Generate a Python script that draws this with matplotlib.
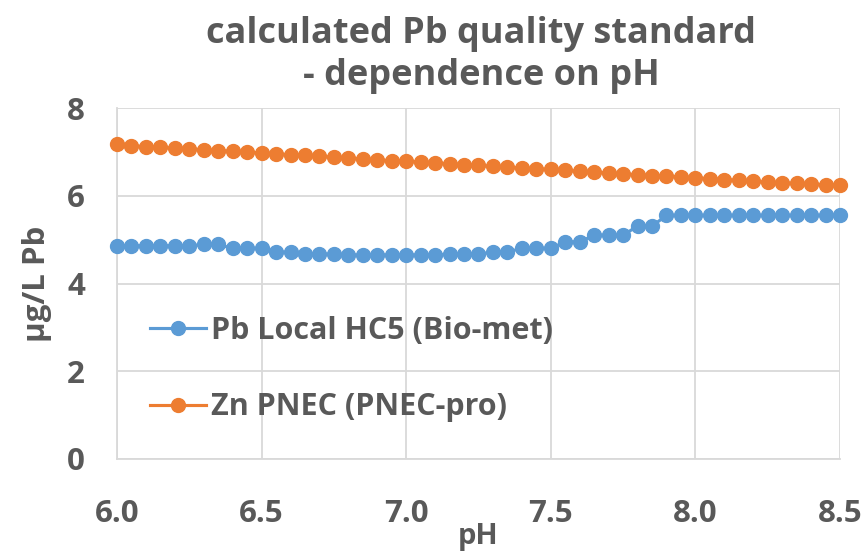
import matplotlib
matplotlib.use("Agg")
import matplotlib.pyplot as plt

ph = [6.0, 6.05, 6.1, 6.15, 6.2, 6.25, 6.3, 6.35, 6.4, 6.45, 6.5, 6.55, 6.6, 6.65, 6.7,
      6.75, 6.8, 6.85, 6.9, 6.95, 7.0, 7.05, 7.1, 7.15, 7.2, 7.25, 7.3, 7.35, 7.4, 7.45,
      7.5, 7.55, 7.6, 7.65, 7.7, 7.75, 7.8, 7.85, 7.9, 7.95, 8.0, 8.05, 8.1, 8.15, 8.2,
      8.25, 8.3, 8.35, 8.4, 8.45, 8.5]

pb_hc5 = [4.86, 4.86, 4.86, 4.86, 4.86, 4.86, 4.89, 4.89, 4.80, 4.80, 4.80, 4.72, 4.71,
          4.67, 4.67, 4.67, 4.65, 4.65, 4.65, 4.65, 4.65, 4.65, 4.65, 4.67, 4.67, 4.67,
          4.72, 4.72, 4.80, 4.80, 4.80, 4.95, 4.95, 5.10, 5.10, 5.10, 5.31, 5.31,
          5.55, 5.55, 5.55, 5.55, 5.55, 5.55, 5.55, 5.55, 5.55, 5.55, 5.55, 5.55, 5.55]

zn_pnec = [7.17, 7.14, 7.12, 7.10, 7.09, 7.07, 7.05, 7.03, 7.01, 6.99, 6.98, 6.95, 6.94,
           6.92, 6.90, 6.88, 6.86, 6.84, 6.82, 6.80, 6.79, 6.77, 6.75, 6.73, 6.71, 6.69,
           6.67, 6.65, 6.63, 6.61, 6.60, 6.58, 6.56, 6.54, 6.52, 6.50, 6.48, 6.46, 6.45,
           6.43, 6.41, 6.39, 6.37, 6.35, 6.33, 6.31, 6.29, 6.28, 6.27, 6.25, 6.24]

labels = ["Pb Local HC5 (Bio-met)", "Zn PNEC (PNEC-pro)"]
title = "calculated Pb quality standard\n- dependence on pH"
xticks = [6.0, 6.5, 7.0, 7.5, 8.0, 8.5]
yticks = [0, 2, 4, 6, 8]

TXT = "#595959"
plt.rcParams['font.family'] = ['Open Sans', 'DejaVu Sans']
plt.rcParams['font.weight'] = 'bold'

fig = plt.figure(figsize=(8.62, 5.57), dpi=100)
ax = fig.add_axes([117/862, 1 - 459/557, (840 - 117)/862, (459 - 108)/557])

ax.plot(ph, pb_hc5, color="#5B9BD5", lw=2.25, marker="o", ms=10, label=labels[0], clip_on=False, zorder=3)
ax.plot(ph, zn_pnec, color="#ED7D31", lw=2.25, marker="o", ms=10, label=labels[1], clip_on=False, zorder=3)

ax.set_xlim(6.0, 8.5)
ax.set_ylim(0, 8)
ax.set_xticks(xticks)
ax.set_xticklabels([f"{v:.1f}" for v in xticks])
ax.set_yticks(yticks)
ax.set_yticklabels([str(v) for v in yticks])
ax.grid(True, color="#D9D9D9", lw=1.3)
ax.set_axisbelow(True)
for s in ["top", "right"]:
    ax.spines[s].set_visible(False)
ax.spines["left"].set_color("#D9D9D9")
ax.spines["bottom"].set_color("#D9D9D9")
ax.spines["left"].set_linewidth(1.3)
ax.spines["bottom"].set_linewidth(1.3)
ax.tick_params(axis="both", length=0, labelsize=22.5, colors=TXT)
ax.tick_params(axis="x", pad=29)
ax.tick_params(axis="y", pad=23)
for t in ax.get_xticklabels() + ax.get_yticklabels():
    t.set_fontweight("bold")

ax.set_xlabel("pH", fontsize=21, color=TXT, fontweight="bold", labelpad=-5)
ax.set_ylabel("µg/L Pb", fontsize=22.5, color=TXT, fontweight="bold", labelpad=11)
fig.text(481/862, 1 - 55/557, title, ha="center", va="center", fontsize=26,
         color=TXT, fontweight="bold", linespacing=1.2)

leg = ax.legend(loc="upper left", bbox_to_anchor=(0.007, 0.486), frameon=False,
                fontsize=22, labelspacing=1.52, handlelength=1.85, handletextpad=0.15)
for t in leg.get_texts():
    t.set_color(TXT)

fig.savefig("out.png", dpi=100)
